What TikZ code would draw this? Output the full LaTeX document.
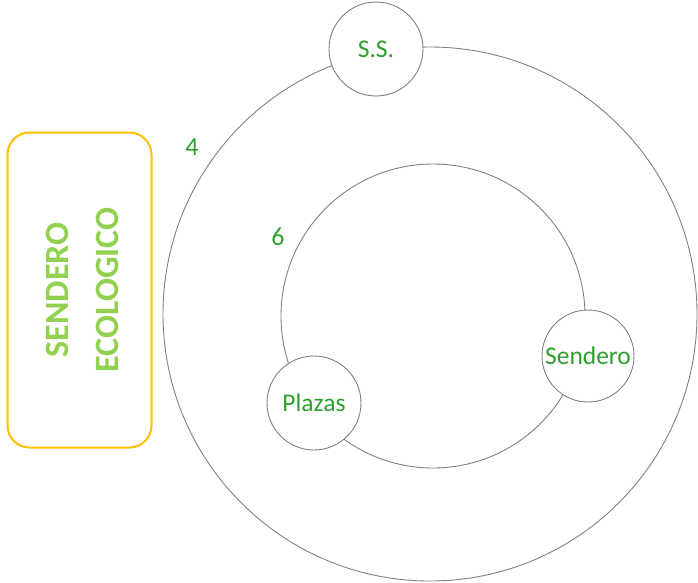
\documentclass[tikz,border=0pt]{standalone}
\usepackage{fontspec}
\setmainfont{Carlito}
\definecolor{labelgreen}{RGB}{44,160,44}
\definecolor{lightgreen}{RGB}{146,208,80}
\definecolor{bordergold}{RGB}{255,192,0}
\tikzset{
  ring/.style={circle,draw=gray,line width=0.9pt,inner sep=0pt},
  stop/.style={circle,draw=gray,fill=white,line width=0.9pt,inner sep=0pt,
    minimum size=94pt,text=labelgreen,font=\fontsize{25.5}{30}\selectfont},
  count/.style={text=labelgreen,font=\fontsize{26}{30}\selectfont,inner sep=0pt},
  title/.style={text=lightgreen,font=\fontsize{34}{40}\selectfont\bfseries,rotate=90,inner sep=0pt}
}
\begin{document}
\begin{tikzpicture}[x=1pt,y=-1pt]
    \useasboundingbox (0,0) rectangle (698,582);
    % rings
    \node[ring,minimum size=534pt] (outer) at (430,314) {};
    \node[ring,minimum size=304pt] (inner) at (433,316) {};
    % stops on the rings
    \node[stop] (ss) at (376,49) {S.S.};
    \node[stop,minimum size=92pt] (sendero) at (588,356) {Sendero};
    \node[stop] (plazas) at (314,403) {Plazas};
    % ring numbers
    \node[count] (four) at (192,147) {4};
    \node[count] (six) at (278,237) {6};
    % side panel
    \node[draw=bordergold,line width=2pt,rounded corners=22pt,
      minimum width=144pt,minimum height=315pt] (panel) at (79.5,290) {};
    \node[title] (word1) at (57,290) {SENDERO};
    \node[title] (word2) at (107,290) {ECOLOGICO};
\end{tikzpicture}
\end{document}
